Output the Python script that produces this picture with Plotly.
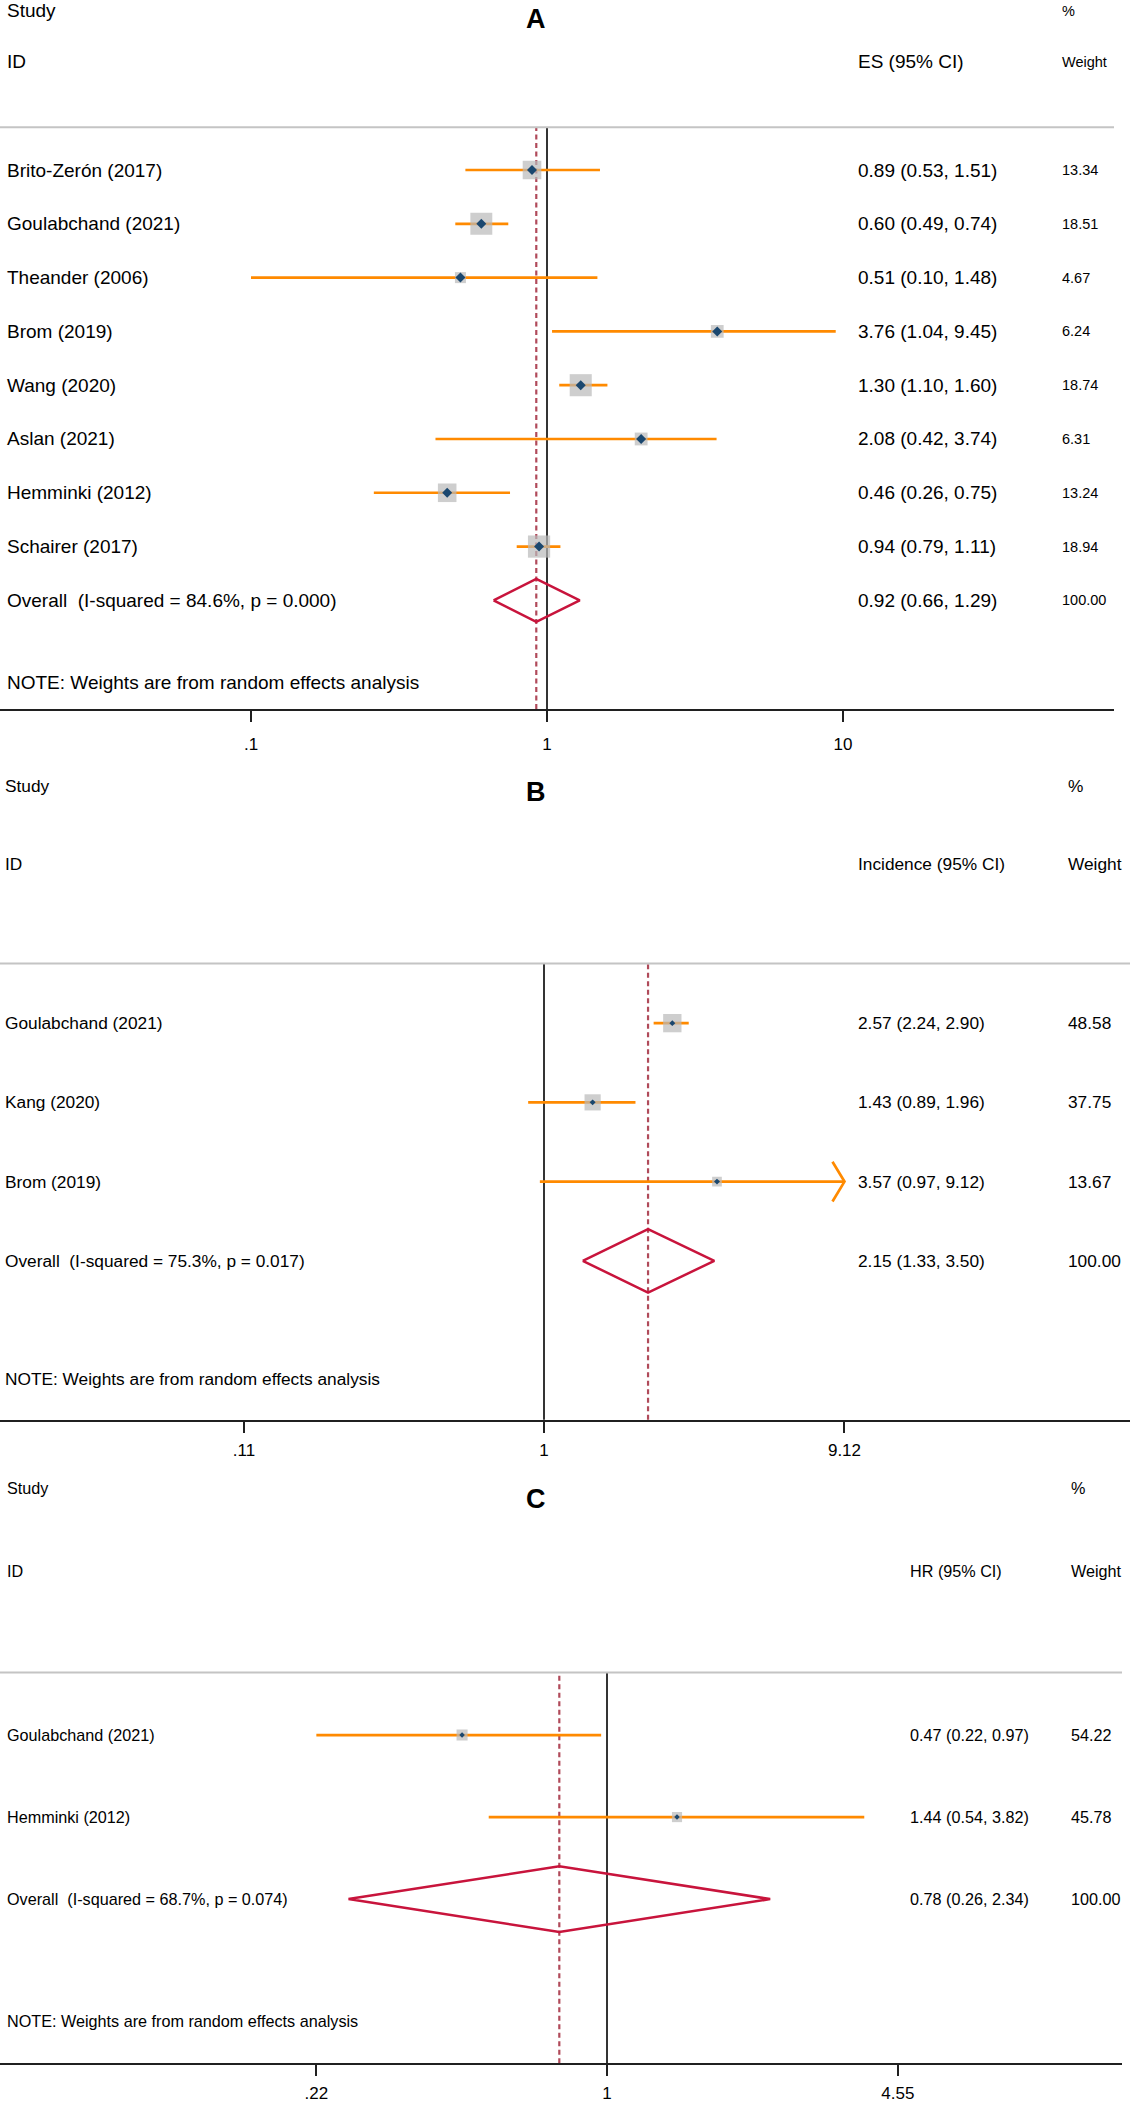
import numpy as np
import plotly.graph_objects as go

W, H = 1130, 2103
FONT = "Liberation Sans, Arial, sans-serif"

# ---------------- data ----------------
# Panel A
a_study = ["Brito-Zerón (2017)", "Goulabchand (2021)", "Theander (2006)", "Brom (2019)",
           "Wang (2020)", "Aslan (2021)", "Hemminki (2012)", "Schairer (2017)"]
a_es = [0.89, 0.60, 0.51, 3.76, 1.30, 2.08, 0.46, 0.94]
a_lo = [0.53, 0.49, 0.10, 1.04, 1.10, 0.42, 0.26, 0.79]
a_hi = [1.51, 0.74, 1.48, 9.45, 1.60, 3.74, 0.75, 1.11]
a_weight = [13.34, 18.51, 4.67, 6.24, 18.74, 6.31, 13.24, 18.94]
a_overall = [0.92, 0.66, 1.29]
a_overall_weight = 100.00
a_het = "I-squared = 84.6%, p = 0.000"
a_ticks = [0.1, 1, 10]
a_ticktext = [".1", "1", "10"]

# Panel B
b_study = ["Goulabchand (2021)", "Kang (2020)", "Brom (2019)"]
b_es = [2.57, 1.43, 3.57]
b_lo = [2.24, 0.89, 0.97]
b_hi = [2.90, 1.96, 9.12]
b_weight = [48.58, 37.75, 13.67]
b_overall = [2.15, 1.33, 3.50]
b_overall_weight = 100.00
b_het = "I-squared = 75.3%, p = 0.017"
b_ticks = [0.11, 1, 9.12]
b_ticktext = [".11", "1", "9.12"]

# Panel C
c_study = ["Goulabchand (2021)", "Hemminki (2012)"]
c_es = [0.47, 1.44]
c_lo = [0.22, 0.54]
c_hi = [0.97, 3.82]
c_weight = [54.22, 45.78]
c_overall = [0.78, 0.26, 2.34]
c_overall_weight = 100.00
c_het = "I-squared = 68.7%, p = 0.074"
c_ticks = [0.22, 1, 4.55]
c_ticktext = [".22", "1", "4.55"]

NOTE = "NOTE: Weights are from random effects analysis"

# ---------------- styles ----------------
ORANGE = "#ff8a00"
BOXGRAY = "#b9b9b9"
NAVY = "#1a476f"
CRIMSON = "#c8143c"
DASHRED = "#b04a5a"

panels = [
    dict(letter="A", study=a_study, es=a_es, lo=a_lo, hi=a_hi, w=a_weight,
         ov=a_overall, ovw=a_overall_weight, het=a_het, ticks=a_ticks, ticktext=a_ticktext,
         est_head="ES (95% CI)",
         x_one=547, decade=296, right=1114, row0=171, step=54.1, sep=128, axis=713,
         note_y=686, study_y=11, id_y=62, letter_y=19, standoff=8,
         lab_x=5, es_x=856, w_x=1060, fs=19, wfs=14.5, box_k=5.1, dia=7.7),
    dict(letter="B", study=b_study, es=b_es, lo=b_lo, hi=b_hi, w=b_weight,
         ov=b_overall, ovw=b_overall_weight, het=b_het, ticks=b_ticks, ticktext=b_ticktext,
         est_head="Incidence (95% CI)",
         x_one=544, decade=313, right=1130, row0=1029, step=79.7, sep=969, axis=1428,
         note_y=1387, study_y=791, id_y=869, letter_y=797, standoff=3,
         lab_x=3, es_x=856, w_x=1066, fs=17.3, wfs=17.3, box_k=2.63, dia=4.6),
    dict(letter="C", study=c_study, es=c_es, lo=c_lo, hi=c_hi, w=c_weight,
         ov=c_overall, ovw=c_overall_weight, het=c_het, ticks=c_ticks, ticktext=c_ticktext,
         est_head="HR (95% CI)",
         x_one=607, decade=442, right=1122, row0=1745, step=82.5, sep=1682, axis=2075,
         note_y=2033, study_y=1497, id_y=1580, letter_y=1508, standoff=2,
         lab_x=5, es_x=908, w_x=1069, fs=16.2, wfs=16.2, box_k=1.5, dia=4.2),
]


def py(px):
    # pixel row -> paper y
    return 1 - px / H


fig = go.Figure()
annotations = []
shapes = []

for n, p in enumerate(panels, start=1):
    sfx = "" if n == 1 else str(n)
    xa, ya = "x" + sfx, "y" + sfx
    k = len(p["study"])
    rows = list(range(k))

    # CI lines (with open arrow when the CI reaches the last tick)
    cx, cy = [], []
    for i in rows:
        cx += [p["lo"][i], p["hi"][i], None]
        cy += [i, i, None]
        if p["hi"][i] >= max(p["ticks"]):
            back = 10 ** (-12 / p["decade"])
            dy = 20 / p["step"]
            cx += [p["hi"][i] * back, p["hi"][i], p["hi"][i] * back, None]
            cy += [i - dy, i, i + dy, None]
    fig.add_trace(go.Scatter(x=cx, y=cy, mode="lines", xaxis=xa, yaxis=ya,
                             line=dict(color=ORANGE, width=2.7), hoverinfo="skip"))

    # weight boxes
    fig.add_trace(go.Scatter(x=p["es"], y=rows, mode="markers", xaxis=xa, yaxis=ya,
                             marker=dict(symbol="square", color=BOXGRAY,
                                         size=[p["box_k"] * np.sqrt(v) for v in p["w"]],
                                         line=dict(width=0)), hoverinfo="skip"))
    # point estimates
    fig.add_trace(go.Scatter(x=p["es"], y=rows, mode="markers", xaxis=xa, yaxis=ya,
                             marker=dict(symbol="diamond", color=NAVY, size=p["dia"],
                                         line=dict(width=0)), hoverinfo="skip"))
    # overall diamond
    es0, lo0, hi0 = p["ov"]
    h = 0.4
    fig.add_trace(go.Scatter(x=[lo0, es0, hi0, es0, lo0], y=[k, k - h, k, k + h, k],
                             mode="lines", xaxis=xa, yaxis=ya,
                             line=dict(color=CRIMSON, width=2.5), hoverinfo="skip"))

    # axes
    dom_w = p["right"]
    xr = [-p["x_one"] / p["decade"], (dom_w - p["x_one"]) / p["decade"]]
    yr = [(p["axis"] - p["row0"]) / p["step"], (p["sep"] - p["row0"]) / p["step"]]
    fig.layout["xaxis" + sfx] = dict(
        domain=[0, dom_w / W], anchor=ya, type="log", range=xr,
        showline=True, linecolor="#202020", linewidth=2.3,
        ticks="outside", ticklen=11, tickwidth=2, tickcolor="#202020",
        tickvals=p["ticks"], ticktext=p["ticktext"], ticklabelstandoff=p["standoff"],
        tickfont=dict(size=17, color="black", family=FONT),
        showgrid=False, zeroline=False, fixedrange=True)
    fig.layout["yaxis" + sfx] = dict(
        domain=[py(p["axis"]), py(p["sep"])], anchor=xa, range=yr,
        visible=False, showgrid=False, zeroline=False, fixedrange=True)

    # reference lines
    shapes.append(dict(type="line", xref=xa, yref=ya + " domain", x0=1, x1=1, y0=0, y1=1,
                       line=dict(color="#1e1e1e", width=1.8), layer="below"))
    shapes.append(dict(type="line", xref=xa, yref=ya + " domain", x0=es0, x1=es0, y0=0, y1=1,
                       line=dict(color=DASHRED, width=2.2, dash="5px,3.5px"), layer="below"))
    shapes.append(dict(type="line", xref="paper", yref="paper", x0=0, x1=p["right"] / W,
                       y0=py(p["sep"]), y1=py(p["sep"]),
                       line=dict(color="#c4c4c4", width=2)))

    def txt(s, x, y, size, yref="paper", bold=False):
        annotations.append(dict(text=("<b>%s</b>" % s) if bold else s,
                                x=x / W, xref="paper", y=y, yref=yref,
                                xanchor="left" if not bold else "center", yanchor="middle",
                                showarrow=False, font=dict(size=size, color="black", family=FONT)))

    # headers
    txt("Study", p["lab_x"], py(p["study_y"]), p["fs"])
    txt("ID", p["lab_x"], py(p["id_y"]), p["fs"])
    txt(p["est_head"], p["es_x"], py(p["id_y"]), p["fs"])
    txt("%", p["w_x"], py(p["study_y"]), p["wfs"])
    txt("Weight", p["w_x"], py(p["id_y"]), p["wfs"])
    txt(p["letter"], 536, py(p["letter_y"]), 27, bold=True)

    # rows
    for i in rows:
        txt(p["study"][i], p["lab_x"], i, p["fs"], yref=ya)
        txt("%.2f (%.2f, %.2f)" % (p["es"][i], p["lo"][i], p["hi"][i]), p["es_x"], i, p["fs"], yref=ya)
        txt("%.2f" % p["w"][i], p["w_x"], i, p["wfs"], yref=ya)
    txt("Overall\u00a0\u00a0(%s)" % p["het"], p["lab_x"], k, p["fs"], yref=ya)
    txt("%.2f (%.2f, %.2f)" % (es0, lo0, hi0), p["es_x"], k, p["fs"], yref=ya)
    txt("%.2f" % p["ovw"], p["w_x"], k, p["wfs"], yref=ya)
    txt(NOTE, p["lab_x"], py(p["note_y"]), p["fs"])

fig.update_layout(
    width=W, height=H,
    margin=dict(l=0, r=0, t=0, b=0),
    paper_bgcolor="white", plot_bgcolor="white",
    showlegend=False, hovermode=False,
    font=dict(family=FONT, color="black"),
    annotations=annotations, shapes=shapes,
)

# the page body has a default 8px margin; drop it so the figure fills the window
fig.write_html("out.html", config={"displayModeBar": False},
               post_script="document.body.style.margin='0';")
